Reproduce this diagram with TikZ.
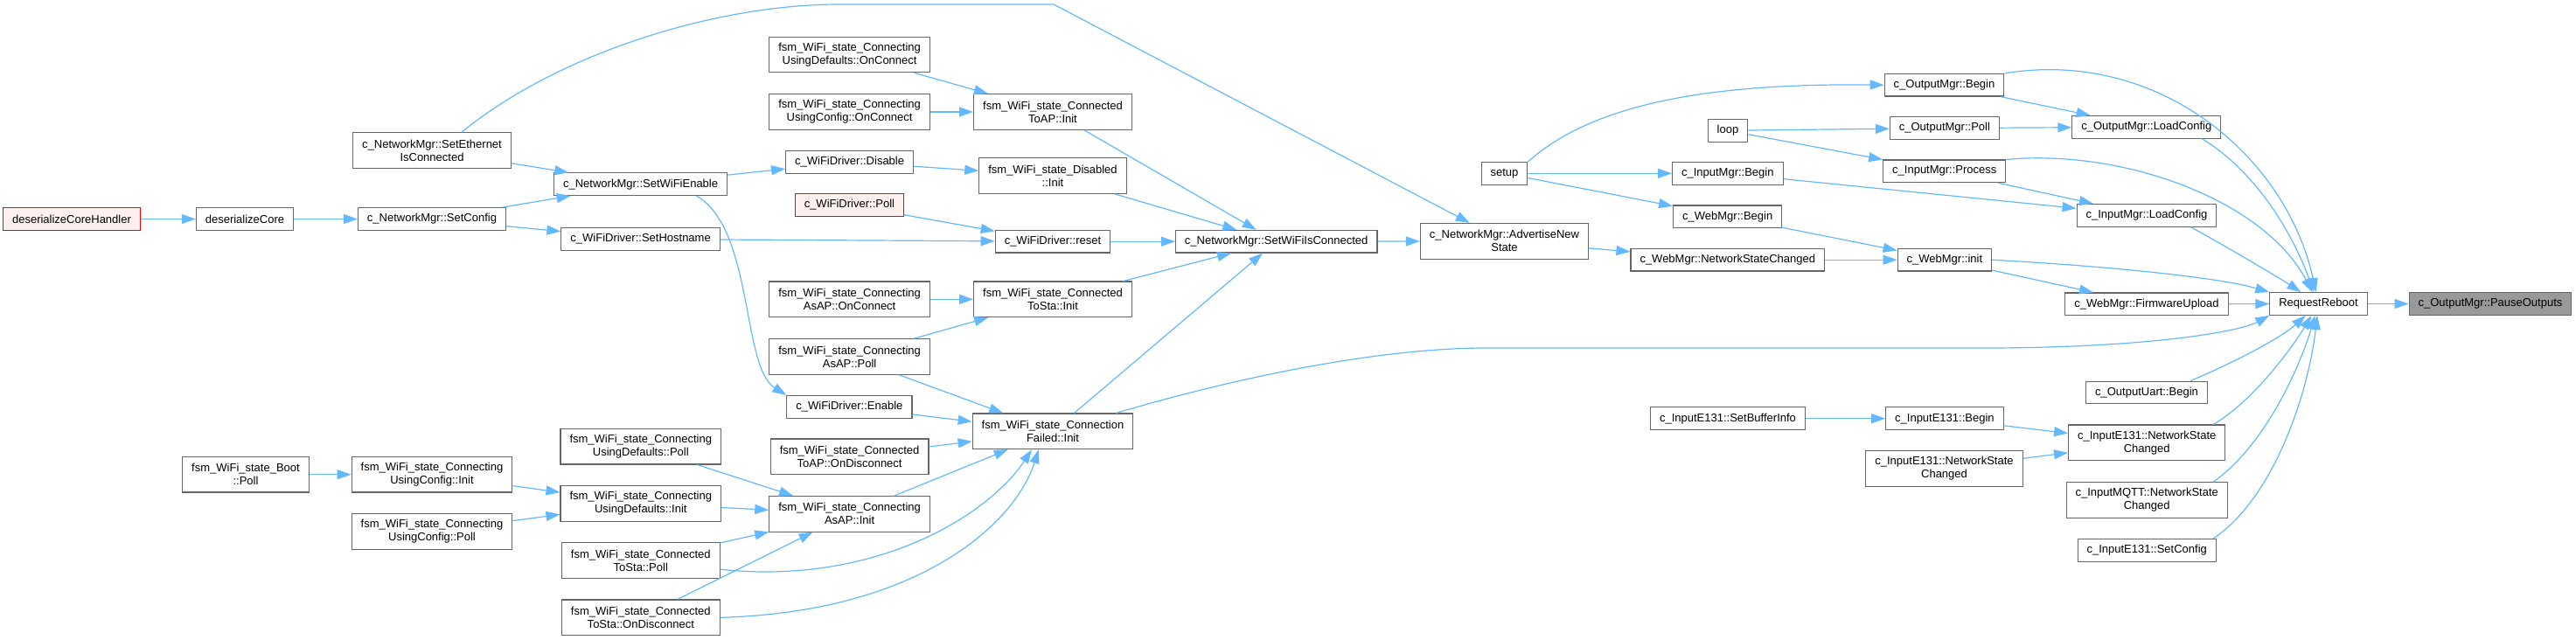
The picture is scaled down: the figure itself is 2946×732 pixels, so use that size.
\documentclass[tikz,border=0pt]{standalone}
\usepackage{fontspec}
\usepackage{tikz}
\usetikzlibrary{arrows.meta}
\newfontfamily\graphfont{Liberation Sans}
\definecolor{EdgeBlue}{HTML}{63B8FF}
\definecolor{BoxLine}{HTML}{666666}
\definecolor{RootFill}{HTML}{999999}
\definecolor{MissRed}{HTML}{FF0000}
\definecolor{MissFill}{HTML}{FFF0F0}
\tikzset{
  fnBox/.style={rectangle,draw=BoxLine,line width=0.55pt,fill=white,text=black,
    font=\graphfont\fontsize{6.5}{7.5}\selectfont,align=center,
    inner xsep=5.25pt,inner ysep=3.2pt,minimum height=12.8pt},
  fnTwo/.style={fnBox,minimum height=20.3pt},
  fnMissing/.style={fnBox,draw=MissRed,fill=MissFill},
  fnRoot/.style={fnBox,fill=RootFill},
  call/.style={-{Triangle[length=8pt,width=5.5pt]},draw=EdgeBlue,line width=0.6pt}
}

\begin{document}
\begin{tikzpicture}[x=0.5pt,y=-0.5pt]
  \useasboundingbox (0,0) rectangle (2946,732);
  \node[fnMissing] (dch) at (82,250.5) {deserializeCoreHandler};
  \node[fnBox] (dc) at (280,250.5) {deserializeCore};
  \node[fnTwo] (seth) at (494,172) {c\_NetworkMgr::SetEthernet\\IsConnected};
  \node[fnBox] (scfg) at (494,250.5) {c\_NetworkMgr::SetConfig};
  \node[fnTwo] (boot) at (281,542.7) {fsm\_WiFi\_state\_Boot\\::Poll};
  \node[fnTwo] (ucinit) at (494,542.7) {fsm\_WiFi\_state\_Connecting\\UsingConfig::Init};
  \node[fnTwo] (ucpoll) at (494,608) {fsm\_WiFi\_state\_Connecting\\UsingConfig::Poll};
  \node[fnBox] (wen) at (732.6,210.7) {c\_NetworkMgr::SetWiFiEnable};
  \node[fnBox] (host) at (732.6,273.5) {c\_WiFiDriver::SetHostname};
  \node[fnTwo] (udpoll) at (732.8,510.7) {fsm\_WiFi\_state\_Connecting\\UsingDefaults::Poll};
  \node[fnTwo] (udinit) at (732.8,576) {fsm\_WiFi\_state\_Connecting\\UsingDefaults::Init};
  \node[fnTwo] (tspoll) at (732.8,641.2) {fsm\_WiFi\_state\_Connected\\ToSta::Poll};
  \node[fnTwo] (tsdisc) at (732.8,706.3) {fsm\_WiFi\_state\_Connected\\ToSta::OnDisconnect};
  \node[fnTwo] (udconn) at (971.6,62.5) {fsm\_WiFi\_state\_Connecting\\UsingDefaults::OnConnect};
  \node[fnTwo] (ucconn) at (971.6,128) {fsm\_WiFi\_state\_Connecting\\UsingConfig::OnConnect};
  \node[fnBox] (disable) at (971.6,185.3) {c\_WiFiDriver::Disable};
  \node[fnMissing] (wpoll) at (971.4,234.5) {c\_WiFiDriver::Poll};
  \node[fnTwo] (apconn) at (971.6,342.3) {fsm\_WiFi\_state\_Connecting\\AsAP::OnConnect};
  \node[fnTwo] (appoll) at (971.6,408) {fsm\_WiFi\_state\_Connecting\\AsAP::Poll};
  \node[fnBox] (enable) at (971.4,465.3) {c\_WiFiDriver::Enable};
  \node[fnTwo] (tadisc) at (971.6,522.3) {fsm\_WiFi\_state\_Connected\\ToAP::OnDisconnect};
  \node[fnTwo] (apinit) at (971.6,587.8) {fsm\_WiFi\_state\_Connecting\\AsAP::Init};
  \node[fnTwo] (tainit) at (1204,128) {fsm\_WiFi\_state\_Connected\\ToAP::Init};
  \node[fnTwo] (disinit) at (1204,201) {fsm\_WiFi\_state\_Disabled\\::Init};
  \node[fnBox] (reset) at (1204,276.2) {c\_WiFiDriver::reset};
  \node[fnTwo] (tsinit) at (1204,342.3) {fsm\_WiFi\_state\_Connected\\ToSta::Init};
  \node[fnTwo] (cfinit) at (1204,493.3) {fsm\_WiFi\_state\_Connection\\Failed::Init};
  \node[fnBox] (wic) at (1459.7,276.2) {c\_NetworkMgr::SetWiFiIsConnected};
  \node[fnTwo] (adv) at (1720.5,275.8) {c\_NetworkMgr::AdvertiseNew\\State};
  \node[fnBox] (setup) at (1720.5,198.3) {setup};
  \node[fnBox] (loop) at (1976,149.3) {loop};
  \node[fnBox] (imbegin) at (1975.8,198.3) {c\_InputMgr::Begin};
  \node[fnBox] (wmbegin) at (1975.7,247.8) {c\_WebMgr::Begin};
  \node[fnBox] (wmnsc) at (1975.8,297.2) {c\_WebMgr::NetworkStateChanged};
  \node[fnBox] (sbi) at (1976,478.7) {c\_InputE131::SetBufferInfo};
  \node[fnBox] (ombegin) at (2223.5,97.2) {c\_OutputMgr::Begin};
  \node[fnBox] (ompoll) at (2223.9,146.5) {c\_OutputMgr::Poll};
  \node[fnBox] (improc) at (2223.8,195.8) {c\_InputMgr::Process};
  \node[fnBox] (wminit) at (2223.9,297.2) {c\_WebMgr::init};
  \node[fnBox] (e131begin) at (2223.9,478.7) {c\_InputE131::Begin};
  \node[fnTwo] (e131nscb) at (2223.5,535.8) {c\_InputE131::NetworkState\\Changed};
  \node[fnBox] (omload) at (2454.8,145.3) {c\_OutputMgr::LoadConfig};
  \node[fnBox] (imload) at (2455,246.3) {c\_InputMgr::LoadConfig};
  \node[fnBox] (fwup) at (2455,347.8) {c\_WebMgr::FirmwareUpload};
  \node[fnBox] (uart) at (2455,449) {c\_OutputUart::Begin};
  \node[fnTwo] (e131nsc) at (2455.2,506.3) {c\_InputE131::NetworkState\\Changed};
  \node[fnTwo] (mqtt) at (2455.2,572) {c\_InputMQTT::NetworkState\\Changed};
  \node[fnBox] (e131cfg) at (2455.2,629.3) {c\_InputE131::SetConfig};
  \node[fnBox] (reboot) at (2651.5,347.5) {RequestReboot};
  \node[fnRoot] (pause) at (2848,347.5) {c\_OutputMgr::PauseOutputs};
  \foreach \a/\b in {dch/dc,dc/scfg,seth/wen,scfg/wen,scfg/host,wen/disable,host/reset,
    boot/ucinit,ucinit/udinit,ucpoll/udinit,udconn/tainit,ucconn/tainit,disable/disinit,
    wpoll/reset,apconn/tsinit,appoll/tsinit,wic/adv,adv/wmnsc,
    setup/imbegin,setup/wmbegin,loop/ompoll,loop/improc,imbegin/imload,wmbegin/wminit,
    wmnsc/wminit,ombegin/omload,ompoll/omload,improc/imload,wminit/fwup,fwup/reboot,
    sbi/e131begin,e131begin/e131nsc,e131nscb/e131nsc,reboot/pause}
    {\draw[call] (\a)--(\b);}
  \foreach \c in {udpoll,udinit,tspoll,tsdisc}{\draw[call] (\c)--(apinit);}
  \foreach \c in {appoll,enable,tadisc,apinit}{\draw[call] (\c)--(cfinit);}
  \foreach \c in {tainit,disinit,reset,tsinit,cfinit}{\draw[call] (\c)--(wic);}
  \draw[call] ([xshift=17pt]seth.north) .. controls (640,60) and (820,5) .. (960,5) -- (1205,5) -- (adv);
  \draw[call] ([xshift=32pt]wen.south) .. controls (862,262) and (848,420) .. (enable.north west);
  \draw[call] ([yshift=-5pt]tspoll.east) .. controls (1000,670) and (1130,590) .. ([xshift=-12pt]cfinit.south);
  \draw[call] (tsdisc.east) .. controls (1050,700) and (1160,600) .. ([xshift=-8pt]cfinit.south);
  \draw[call] ([xshift=-10pt]cfinit.north east) .. controls (1420,430) and (1580,398) .. (1700,398)
    -- (2270,398) .. controls (2450,398) and (2560,380) .. (reboot.south west);
  \draw[call] (setup.north east) .. controls (1820,120) and (1950,95) .. (ombegin.west);
  \draw[call] (ombegin.north east) .. controls (2470,55) and (2615,180) .. (reboot);
  \draw[call] ([xshift=-11pt]omload.south east) .. controls (2570,190) and (2615,250) .. (reboot);
  \draw[call] (improc.north east) .. controls (2430,170) and (2590,230) .. (reboot);
  \draw[call] ([xshift=-15pt]imload.south east) .. controls (2560,290) and (2610,320) .. (reboot);
  \draw[call] (wminit.east) .. controls (2420,305) and (2540,318) .. (reboot.north west);
  \draw[call] ([xshift=25pt]uart.north) .. controls (2565,410) and (2610,385) .. (reboot);
  \draw[call] ([xshift=38pt]e131nsc.north) .. controls (2575,460) and (2620,400) .. (reboot);
  \draw[call] ([xshift=38pt]mqtt.north) .. controls (2590,510) and (2630,420) .. (reboot);
  \draw[call] ([xshift=38pt]e131cfg.north) .. controls (2600,570) and (2640,450) .. (reboot);
\end{tikzpicture}
\end{document}
